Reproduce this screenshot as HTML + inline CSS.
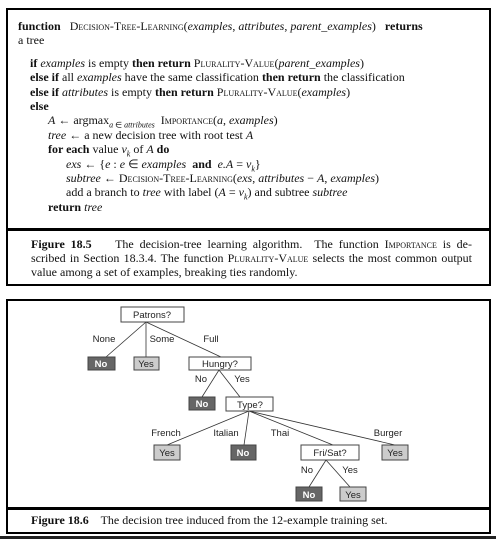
<!DOCTYPE html>
<html><head><meta charset="utf-8"><style>
body{margin:0;width:496px;height:539px;background:#fff;position:relative;overflow:hidden;font-family:"Liberation Serif",serif;color:#111}
.l{position:absolute;font-size:12px;white-space:nowrap;line-height:13px}
.j{white-space:normal;text-align:justify;text-align-last:justify;width:441px}
.sc{font-variant:small-caps}
i{font-style:italic}
sub{font-size:8px;line-height:0}
.box{position:absolute;border:2px solid #000;box-sizing:border-box}
.hr{position:absolute;background:#000}
</style></head><body>
<div class="box" style="left:6px;top:8px;width:485px;height:278px"></div>
<div class="hr" style="left:6px;top:228px;width:485px;height:3px"></div>
<div class="l" style="left:18px;top:20px"><b>function</b> &nbsp; <span class="sc">Decision-Tree-Learning</span>(<i>examples</i>, <i>attributes</i>, <i>parent_examples</i>) &nbsp; <b>returns</b></div>
<div class="l" style="left:18px;top:34px">a tree</div>
<div class="l" style="left:30px;top:57px"><b>if</b> <i>examples</i> is empty <b>then return</b> <span class="sc">Plurality-Value</span>(<i>parent_examples</i>)</div>
<div class="l" style="left:30px;top:71px"><b>else if</b> all <i>examples</i> have the same classification <b>then return</b> the classification</div>
<div class="l" style="left:30px;top:86px"><b>else if</b> <i>attributes</i> is empty <b>then return</b> <span class="sc">Plurality-Value</span>(<i>examples</i>)</div>
<div class="l" style="left:30px;top:100px"><b>else</b></div>
<div class="l" style="left:48px;top:114px"><i>A</i> ← argmax<sub><i>a</i> ∈ <i>attributes</i></sub> &nbsp;<span class="sc">Importance</span>(<i>a</i>, <i>examples</i>)</div>
<div class="l" style="left:48px;top:129px"><i>tree</i> ← a new decision tree with root test <i>A</i></div>
<div class="l" style="left:48px;top:143px"><b>for each</b> value <i>v<sub>k</sub></i> of <i>A</i> <b>do</b></div>
<div class="l" style="left:66px;top:158px"><i>exs</i> ← {<i>e</i> : <i>e</i> ∈ <i>examples</i> &nbsp;<b>and</b>&nbsp; <i>e.A</i> = <i>v<sub>k</sub></i>}</div>
<div class="l" style="left:66px;top:172px"><i>subtree</i> ← <span class="sc">Decision-Tree-Learning</span>(<i>exs</i>, <i>attributes</i> − <i>A</i>, <i>examples</i>)</div>
<div class="l" style="left:66px;top:186px">add a branch to <i>tree</i> with label (<i>A</i> = <i>v<sub>k</sub></i>) and subtree <i>subtree</i></div>
<div class="l" style="left:48px;top:201px"><b>return</b> <i>tree</i></div>
<div class="l j" style="left:31px;top:238px"><b>Figure 18.5</b> &nbsp;&nbsp; The decision-tree learning algorithm. &nbsp;The function <span class="sc">Importance</span> is de-</div>
<div class="l j" style="left:31px;top:252px">scribed in Section 18.3.4. The function <span class="sc">Plurality-Value</span> selects the most common output</div>
<div class="l" style="left:31px;top:266px">value among a set of examples, breaking ties randomly.</div>

<div class="box" style="left:6px;top:299px;width:485px;height:235px"></div>
<div class="hr" style="left:6px;top:507px;width:485px;height:3px"></div>
<div class="hr" style="left:0;top:536px;width:496px;height:3px;background:#222"></div>
<div class="l" style="left:31px;top:514px"><b>Figure 18.6</b> &nbsp;&nbsp; The decision tree induced from the 12-example training set.</div>

<svg style="position:absolute;left:0;top:0" width="496" height="539" font-family="Liberation Sans, sans-serif" font-size="9.5">
<g stroke="#333" stroke-width="0.8">
<line x1="146" y1="322" x2="106" y2="357"/><line x1="146" y1="322" x2="146" y2="357"/><line x1="146" y1="322" x2="221" y2="357"/>
<line x1="219" y1="370" x2="202" y2="397"/><line x1="219" y1="370" x2="240" y2="397"/>
<line x1="249" y1="411" x2="167" y2="445"/><line x1="249" y1="411" x2="244" y2="445"/><line x1="249" y1="411" x2="333" y2="445"/><line x1="249" y1="411" x2="395" y2="445"/>
<line x1="326" y1="460" x2="309" y2="487"/><line x1="326" y1="460" x2="350" y2="487"/>
</g>
<g stroke="#444" stroke-width="1">
<rect x="121" y="307" width="63" height="15" fill="#fff"/>
<rect x="189" y="357" width="62" height="13" fill="#fff"/>
<rect x="226" y="397" width="47" height="14" fill="#fff"/>
<rect x="301" y="445" width="58" height="15" fill="#fff"/>
<rect x="88" y="357" width="27" height="13" fill="#666"/>
<rect x="134" y="357" width="25" height="13" fill="#ccc"/>
<rect x="189" y="397" width="26" height="13" fill="#666"/>
<rect x="154" y="445" width="26" height="15" fill="#ccc"/>
<rect x="231" y="445" width="25" height="15" fill="#666"/>
<rect x="382" y="445" width="26" height="15" fill="#ccc"/>
<rect x="296" y="487" width="26" height="14" fill="#666"/>
<rect x="340" y="487" width="26" height="14" fill="#ccc"/>
</g>
<g text-anchor="middle" fill="#222">
<text x="152" y="318">Patrons?</text><text x="220" y="367">Hungry?</text><text x="250" y="408">Type?</text><text x="330" y="456">Fri/Sat?</text>
<text x="146" y="367">Yes</text><text x="167" y="456">Yes</text><text x="395" y="456">Yes</text><text x="353" y="498">Yes</text>
<text x="104" y="342">None</text><text x="162" y="342">Some</text><text x="211" y="342">Full</text>
<text x="201" y="382">No</text><text x="242" y="382">Yes</text>
<text x="166" y="436">French</text><text x="226" y="436">Italian</text><text x="280" y="436">Thai</text><text x="388" y="436">Burger</text>
<text x="307" y="473">No</text><text x="350" y="473">Yes</text>
</g>
<g text-anchor="middle" fill="#fff" font-weight="bold">
<text x="101" y="367">No</text><text x="202" y="407">No</text><text x="243" y="456">No</text><text x="309" y="498">No</text>
</g>
</svg>
</body></html>
